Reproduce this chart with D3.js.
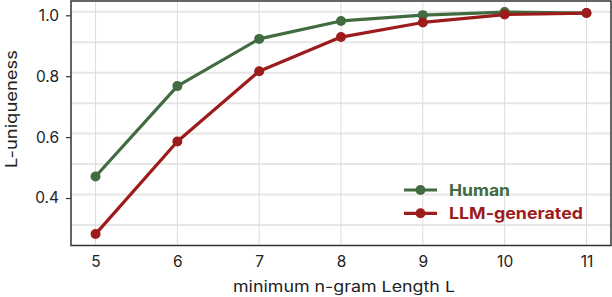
<!DOCTYPE html>
<html>
<head>
<meta charset="utf-8">
<script src="https://cdn.jsdelivr.net/npm/d3@7"></script>
<style>
  body { margin: 0; background: #fff; }
  text { font-family: Inter, "DejaVu Sans", sans-serif; }
</style>
</head>
<body>
<svg id="chart"></svg>
<script>
var width = 612;
var height = 297;
var margin = {top: 1, right: 1, bottom: 51.5, left: 71};

// data
var lengths = [5, 6, 7, 8, 9, 10, 11];
var human = [0.459, 0.756, 0.911, 0.970, 0.989, 0.999, 0.996];
var llm = [0.270, 0.574, 0.805, 0.917, 0.965, 0.991, 0.996];
var yTicks = [0.4, 0.6, 0.8, 1.0];
var yGrid = [0.3, 0.4, 0.5, 0.6, 0.7, 0.8, 0.9, 1.0];
var seriesNames = ["Human", "LLM-generated"];

var colors = {"Human": "#416b40", "LLM-generated": "#9c1c1c"};

var svg = d3.select("#chart").attr("width", width).attr("height", height);

var x = d3.scaleLinear().domain([4.7, 11.3]).range([margin.left, width - margin.right]);
var y = d3.scaleLinear().domain([0.2325, 1.0355]).range([height - margin.bottom, margin.top]);

// grid
svg.append("g").selectAll("line").data(yGrid).enter().append("line")
  .attr("x1", x.range()[0]).attr("x2", x.range()[1])
  .attr("y1", function(d) { return y(d); }).attr("y2", function(d) { return y(d); })
  .attr("stroke", "#e6e6e6").attr("stroke-width", 2);

svg.append("g").selectAll("line").data(lengths).enter().append("line")
  .attr("x1", function(d) { return x(d); }).attr("x2", function(d) { return x(d); })
  .attr("y1", y.range()[0]).attr("y2", y.range()[1])
  .attr("stroke", "#dcdcdc").attr("stroke-width", 1);

// lines + markers
var series = [
  {name: "Human", values: human},
  {name: "LLM-generated", values: llm}
];

var line = d3.line()
  .x(function(d, i) { return x(lengths[i]); })
  .y(function(d) { return y(d); });

series.forEach(function(s) {
  svg.append("path").datum(s.values)
    .attr("d", line)
    .attr("fill", "none")
    .attr("stroke", colors[s.name])
    .attr("stroke-width", 3.2)
    .attr("stroke-linejoin", "round");
  svg.append("g").selectAll("circle").data(s.values).enter().append("circle")
    .attr("cx", function(d, i) { return x(lengths[i]); })
    .attr("cy", function(d) { return y(d); })
    .attr("r", 5)
    .attr("fill", colors[s.name]);
});

// axes
var xAxis = svg.append("g")
  .attr("transform", "translate(0," + (height - margin.bottom) + ")")
  .call(d3.axisBottom(x).tickValues(lengths).tickSize(0).tickPadding(10).tickFormat(d3.format("d")));
xAxis.select(".domain").remove();
xAxis.selectAll("text").attr("font-size", 15.5).attr("fill", "#222");

// tick labels sit a little below the grid in the original
var yAxis = svg.append("g")
  .attr("transform", "translate(" + margin.left + ",3.5)")
  .call(d3.axisLeft(y).tickValues(yTicks).tickSize(5).tickPadding(7).tickFormat(d3.format(".1f")));
yAxis.select(".domain").remove();
yAxis.selectAll("line").attr("stroke", "#333").attr("stroke-width", 1.2);
yAxis.selectAll("text").attr("font-size", 15.5).attr("fill", "#222");

// frame
svg.append("rect")
  .attr("x", x.range()[0]).attr("y", y.range()[1])
  .attr("width", x.range()[1] - x.range()[0])
  .attr("height", y.range()[0] - y.range()[1])
  .attr("fill", "none").attr("stroke", "#333").attr("stroke-width", 1.5);

// labels (the original text is a bit wide, so stretch it)
svg.append("text")
  .attr("x", 233).attr("y", 291.5)
  .attr("font-size", 15).attr("fill", "#222")
  .attr("textLength", 222).attr("lengthAdjust", "spacingAndGlyphs")
  .text("minimum n-gram Length L");

svg.append("text")
  .attr("transform", "translate(17,168) rotate(-90)")
  .attr("font-size", 15.5).attr("fill", "#222")
  .attr("textLength", 118).attr("lengthAdjust", "spacingAndGlyphs")
  .text("L-uniqueness");

// legend
var legend = svg.append("g").attr("transform", "translate(404,190)");
seriesNames.forEach(function(name, i) {
  var row = legend.append("g").attr("transform", "translate(0," + (i * 23.3) + ")");
  row.append("line").attr("x1", 0).attr("x2", 33).attr("y1", 0).attr("y2", 0)
    .attr("stroke", colors[name]).attr("stroke-width", 3.2);
  row.append("circle").attr("cx", 16.5).attr("cy", 0).attr("r", 5).attr("fill", colors[name]);
  row.append("text").attr("x", 45).attr("y", 0).attr("dy", "0.36em")
    .attr("font-size", 16).attr("font-weight", "bold").attr("fill", colors[name])
    .attr("textLength", name === "Human" ? 61 : 134).attr("lengthAdjust", "spacingAndGlyphs")
    .text(name);
});
</script>
</body>
</html>
